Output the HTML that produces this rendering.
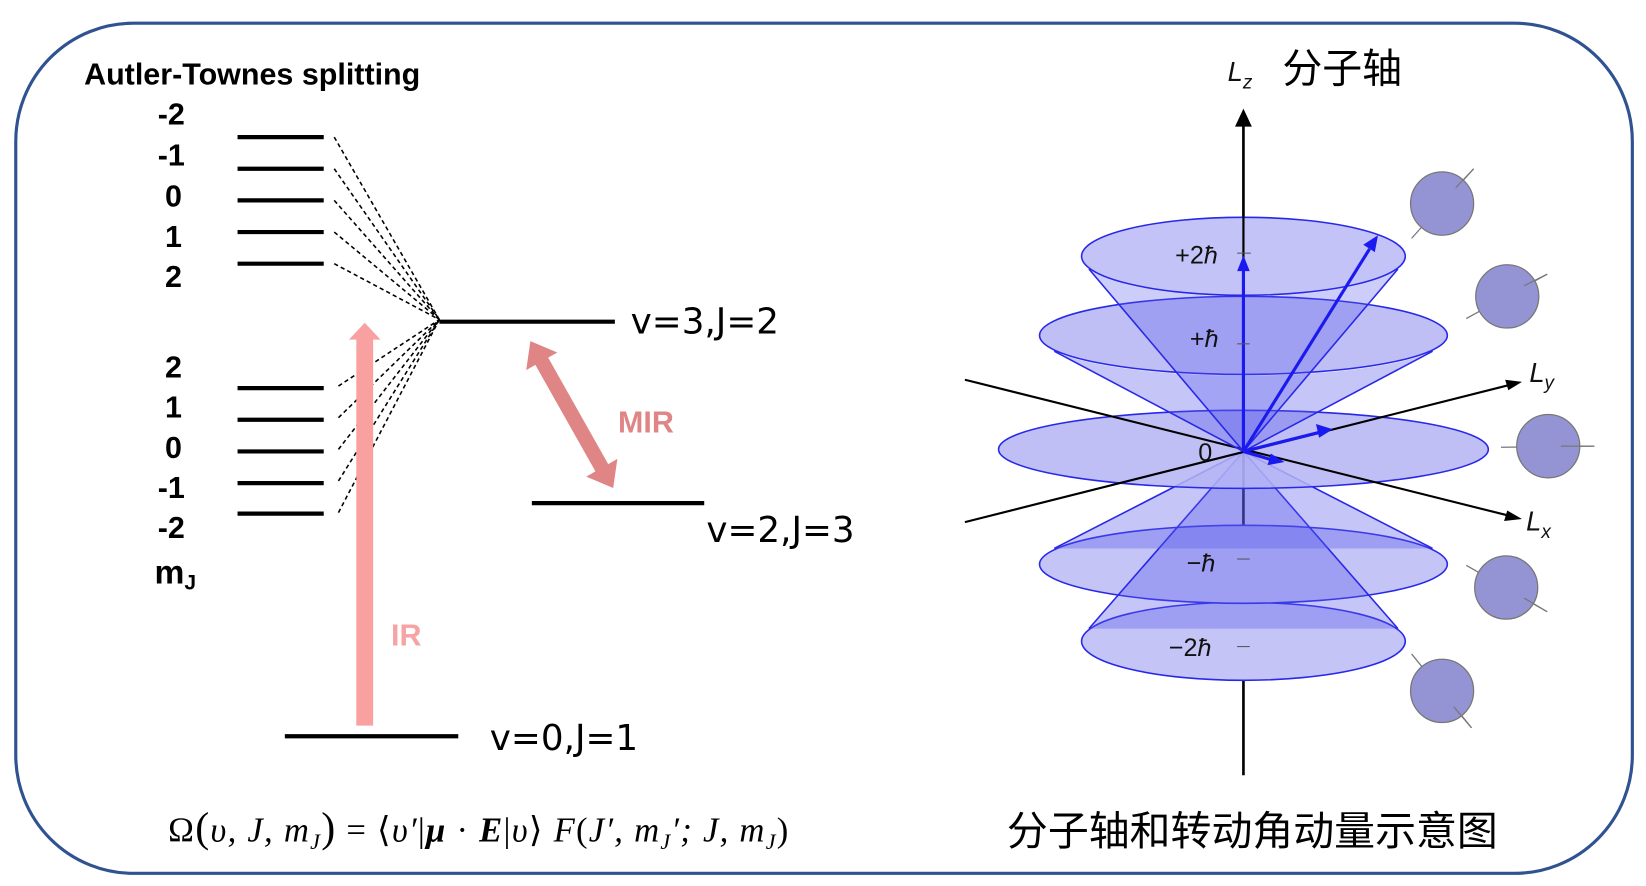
<!DOCTYPE html>
<html><head><meta charset="utf-8"><style>
html,body{margin:0;padding:0;background:#fff;}
svg{display:block}
</style></head><body>
<svg width="1646" height="886" viewBox="0 0 1566 840" preserveAspectRatio="none" xmlns="http://www.w3.org/2000/svg">
<rect x="15" y="22" width="1538" height="806" rx="112" ry="112" fill="#fff" stroke="#2f5290" stroke-width="3"/>
<g font-family="Liberation Sans, sans-serif">
<text x="80" y="80" font-size="29" font-weight="bold">Autler-Townes splitting</text>
<g font-size="29" font-weight="bold" text-anchor="middle">
<text x="163" y="118">-2</text><text x="163" y="157">-1</text><text x="165" y="196">0</text><text x="165" y="234">1</text><text x="165" y="272">2</text>
<text x="165" y="358">2</text><text x="165" y="396">1</text><text x="165" y="434">0</text><text x="163" y="472">-1</text><text x="163" y="510">-2</text>
</g>
<text x="147" y="553" font-size="32" font-weight="bold">m<tspan font-size="20" dy="6">J</tspan></text>
</g>
<g stroke="#000" stroke-width="4">
<line x1="226" y1="130" x2="308" y2="130"/><line x1="226" y1="160" x2="308" y2="160"/><line x1="226" y1="190" x2="308" y2="190"/><line x1="226" y1="220" x2="308" y2="220"/><line x1="226" y1="250" x2="308" y2="250"/>
<line x1="226" y1="368" x2="308" y2="368"/><line x1="226" y1="398" x2="308" y2="398"/><line x1="226" y1="428" x2="308" y2="428"/><line x1="226" y1="458" x2="308" y2="458"/><line x1="226" y1="487" x2="308" y2="487"/>
<line x1="418" y1="305" x2="585" y2="305"/>
<line x1="506" y1="477" x2="670" y2="477"/>
<line x1="271" y1="698" x2="436" y2="698"/>
</g>
<g stroke="#000" stroke-width="1.5" stroke-dasharray="4,3">
<line x1="318" y1="130" x2="418" y2="303"/><line x1="318" y1="160" x2="418" y2="303"/><line x1="318" y1="190" x2="418" y2="303"/><line x1="318" y1="220" x2="418" y2="303"/><line x1="318" y1="250" x2="418" y2="303"/>
<line x1="322" y1="366" x2="418" y2="303"/><line x1="322" y1="396" x2="418" y2="303"/><line x1="322" y1="426" x2="418" y2="303"/><line x1="322" y1="456" x2="418" y2="303"/><line x1="322" y1="486" x2="418" y2="303"/>
</g>
<polygon points="339,688 355,688 355,322 362,322 347,306 332,322 339,322" fill="#f9a0a0"/>
<g transform="translate(544,393) rotate(-29.5)">
<polygon points="-7,-58 -7,58 -17,58 0,80 17,58 7,58 7,-58 17,-58 0,-80 -17,-58" fill="#e08585"/>
</g>
<g font-family="Liberation Sans, sans-serif" font-weight="bold" font-size="29">
<text x="372" y="612" fill="#f7a3a3">IR</text>
<text x="588" y="410" fill="#e08585">MIR</text>
</g>
<g font-family="DejaVu Sans, sans-serif" font-size="34">
<text x="600" y="316">v=3,J=2</text>
<text x="672" y="514">v=2,J=3</text>
<text x="466" y="711">v=0,J=1</text>
</g>
<text x="160" y="798" font-family="Liberation Serif, serif" font-size="33" textLength="590" lengthAdjust="spacing">Ω<tspan font-size="40">(</tspan><tspan font-style="italic">υ, J, m<tspan font-size="21" dy="7">J</tspan></tspan><tspan dy="-7" font-size="40">)</tspan> = ⟨<tspan font-style="italic">υ′</tspan>|<tspan font-weight="bold" font-style="italic">μ</tspan> · <tspan font-weight="bold" font-style="italic">E</tspan>|<tspan font-style="italic">υ</tspan>⟩ <tspan font-style="italic">F</tspan>(<tspan font-style="italic">J′, m<tspan font-size="21" dy="7">J</tspan><tspan dy="-7">′; J, m</tspan><tspan font-size="21" dy="7">J</tspan></tspan><tspan dy="-7">)</tspan></text>

<!-- right diagram -->
<line x1="1183" y1="735" x2="1183" y2="115" stroke="#000" stroke-width="2.5"/>
<polygon points="1183,103 1175,120 1191,120" fill="#000"/>
<g fill="#c4c4f7" stroke="#2828e8" stroke-width="1.5">
<ellipse cx="1183" cy="608" rx="154" ry="37"/>
<ellipse cx="1183" cy="535" rx="194" ry="37"/>
</g>
<path d="M1036,596 L1183,428 L1330,596" fill="rgba(90,90,235,0.35)" stroke="#2828e8" stroke-width="1.5"/>
<path d="M1003,520 L1183,428 L1363,520" fill="rgba(90,90,235,0.35)" stroke="#2828e8" stroke-width="1.5"/>
<ellipse cx="1183" cy="426" rx="233" ry="37" fill="rgba(180,180,245,0.85)" stroke="#2828e8" stroke-width="1.5"/>
<line x1="918" y1="495" x2="1440" y2="364" stroke="#000" stroke-width="2"/>
<line x1="918" y1="360" x2="1440" y2="490" stroke="#000" stroke-width="2"/>
<polygon points="1448,362 1432,360 1435,370" fill="#000"/>
<polygon points="1448,492 1431,494 1434,484" fill="#000"/>
<ellipse cx="1183" cy="318" rx="194" ry="37" fill="rgba(180,180,245,0.85)" stroke="#2828e8" stroke-width="1.5"/>
<path d="M1003,333 L1183,428 L1363,333 A194,37 0 0 1 1003,333 Z" fill="rgba(90,90,235,0.35)" stroke="none"/>
<path d="M1003,333 L1183,428 L1363,333" fill="none" stroke="#2828e8" stroke-width="1.5"/>
<ellipse cx="1183" cy="243" rx="154" ry="37" fill="rgba(185,185,247,0.85)" stroke="#2828e8" stroke-width="1.5"/>
<path d="M1036,255 L1183,428 L1330,255 A154,37 0 0 1 1036,255 Z" fill="rgba(90,90,235,0.3)" stroke="none"/>
<path d="M1036,255 L1183,428 L1330,255" fill="none" stroke="#2828e8" stroke-width="1.5"/>
<line x1="1183" y1="428" x2="1183" y2="110" stroke="#000" stroke-width="2"/>
<g stroke="#1a1af0" stroke-width="3" fill="#1a1af0">
<line x1="1183" y1="428" x2="1183" y2="255"/>
<polygon points="1183,242 1177,257 1189,257" stroke="none"/>
<line x1="1183" y1="428" x2="1303" y2="236"/>
<polygon points="1311,223 1297,232 1308,239" stroke="none"/>
<line x1="1183" y1="428" x2="1255" y2="410"/>
<polygon points="1268,407 1252,402 1255,415" stroke="none"/>
<line x1="1183" y1="428" x2="1210" y2="436"/>
<polygon points="1222,438 1209,430 1206,441" stroke="none"/>
</g>
<g font-family="Liberation Sans, sans-serif" font-size="24" fill="#111">
<text x="1118" y="250">+2<tspan font-style="italic">ħ</tspan></text>
<text x="1132" y="329">+<tspan font-style="italic">ħ</tspan></text>
<text x="1140" y="437">0</text>
<text x="1129" y="542">−<tspan font-style="italic">ħ</tspan></text>
<text x="1112" y="622">−2<tspan font-style="italic">ħ</tspan></text>
<text x="1168" y="77" font-style="italic" font-size="26">L<tspan font-size="18" dy="7">z</tspan></text>
<text x="1455" y="362" font-style="italic" font-size="26">L<tspan font-size="18" dy="7">y</tspan></text>
<text x="1452" y="503" font-style="italic" font-size="26">L<tspan font-size="18" dy="7">x</tspan></text>
</g>
<g stroke="#555" stroke-width="1" fill="none">
<line x1="1177" y1="326" x2="1189" y2="326"/><line x1="1177" y1="530" x2="1189" y2="530"/><line x1="1177" y1="613" x2="1189" y2="613"/><line x1="1177" y1="240" x2="1190" y2="240"/>
</g>
<g fill="#9494d4" stroke="#777" stroke-width="1.2">
<line x1="1343" y1="226" x2="1402" y2="160"/><circle cx="1372" cy="193" r="30"/><line x1="1385" y1="178" x2="1402" y2="160"/>
<line x1="1395" y1="302" x2="1472" y2="260"/><circle cx="1434" cy="281" r="30"/><line x1="1450" y1="271" x2="1472" y2="260"/>
<line x1="1428" y1="424" x2="1517" y2="423"/><circle cx="1473" cy="423" r="30"/><line x1="1485" y1="423" x2="1517" y2="423"/>
<line x1="1395" y1="536" x2="1472" y2="580"/><circle cx="1433" cy="557" r="30"/><line x1="1450" y1="567" x2="1472" y2="580"/>
<line x1="1343" y1="620" x2="1400" y2="690"/><circle cx="1372" cy="655" r="30"/><line x1="1383" y1="670" x2="1400" y2="690"/>
</g>
<g font-family="Liberation Sans, Noto Sans CJK SC, sans-serif" font-size="38" fill="#000">
<text x="1220" y="78">分子轴</text>
<text x="958" y="801" textLength="467" lengthAdjust="spacingAndGlyphs">分子轴和转动角动量示意图</text>
</g>
</svg>
</body></html>
